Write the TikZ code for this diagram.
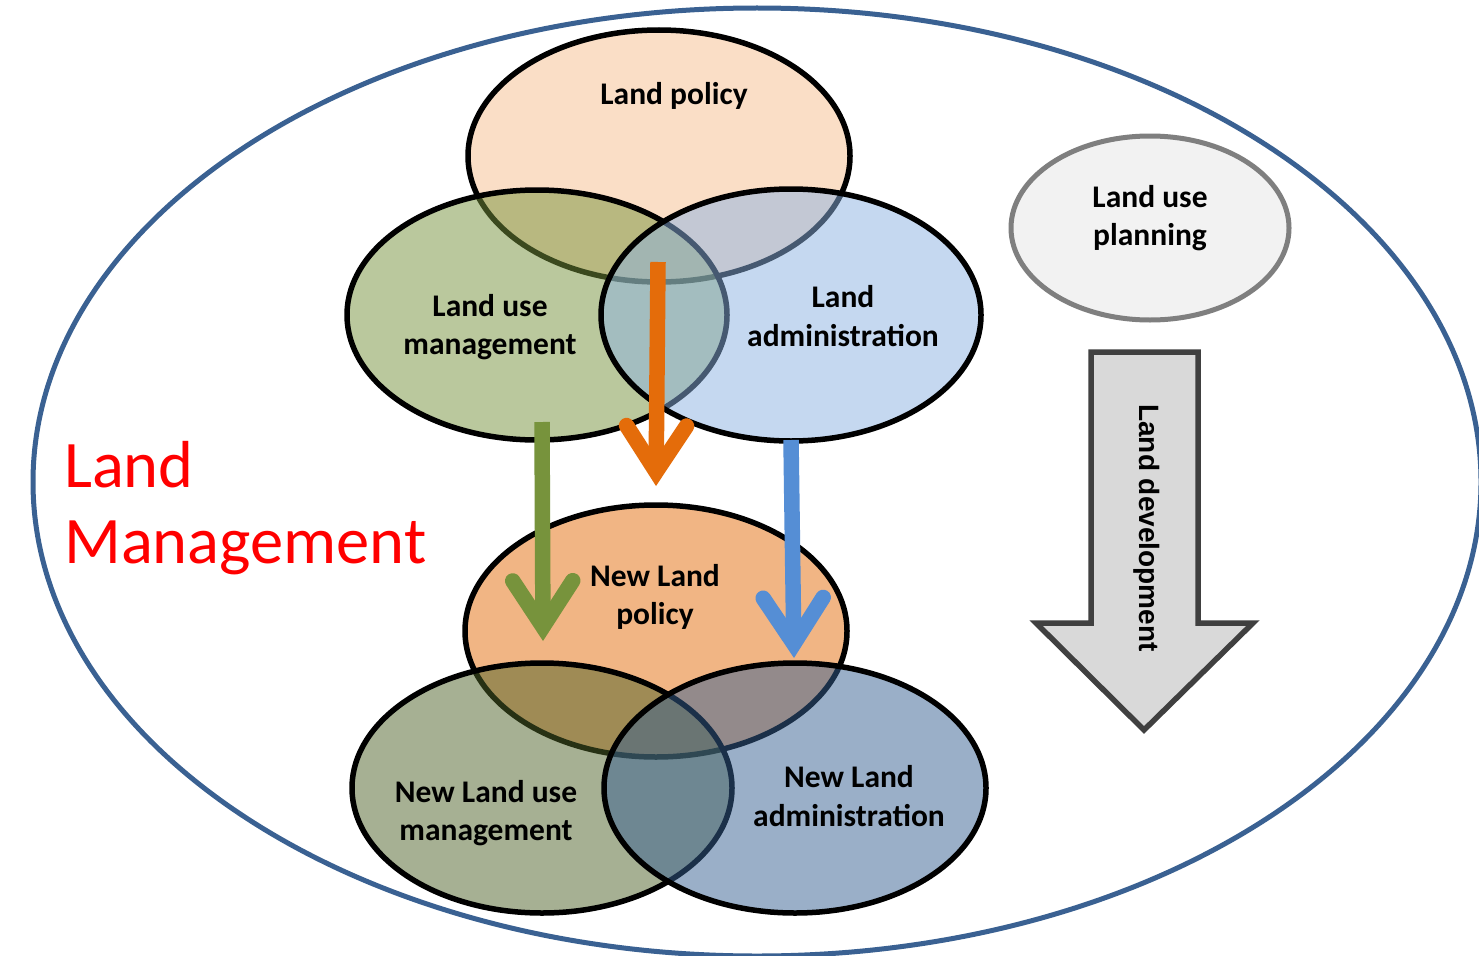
\documentclass[tikz,border=0pt]{standalone}
\usepackage{fontspec}
\setmainfont{Carlito}
\newfontfamily\arialfont{Liberation Sans}
\usetikzlibrary{arrows.meta}
\definecolor{lpfill}{HTML}{FADEC6}
\definecolor{lumc}{HTML}{77933C}
\definecolor{lac}{HTML}{8DB3E2}
\definecolor{nlpc}{HTML}{E46C0A}
\definecolor{nlumc}{HTML}{4F6228}
\definecolor{nlac}{HTML}{376092}
\definecolor{bigc}{HTML}{3A6192}
\definecolor{orangea}{HTML}{E46C0A}
\definecolor{greena}{HTML}{77933C}
\definecolor{bluea}{HTML}{558ED5}
\definecolor{lupfill}{HTML}{F2F2F2}
\definecolor{lupdraw}{HTML}{7F7F7F}
\definecolor{ldfill}{HTML}{D9D9D9}
\definecolor{lddraw}{HTML}{404040}
\begin{document}
\begin{tikzpicture}[x=1pt,y=-1pt,
  venn/.style={draw=black, line width=5.5pt},
  lbl/.style={font=\fontsize{31.5}{38.5}\selectfont\bfseries, align=center, inner sep=0pt},
  flow/.style={line width=15.5pt, line cap=butt,
    -{Straight Barb[length=46pt,width=60pt,line cap=round,line join=miter]}},
]
\useasboundingbox (0,0) rectangle (1479,955);
\fill[white] (0,0) rectangle (1479,955);
\clip (0,0) rectangle (1479,955);
% outer ellipse
\draw[line width=5pt, bigc] (757,482) ellipse [x radius=724, y radius=474];
% top venn
\draw[venn, fill=lpfill] (659,156) ellipse [x radius=191, y radius=126];
\draw[venn, fill=lumc, fill opacity=0.5] (537,315) ellipse [x radius=190, y radius=125];
\draw[venn, fill=lac, fill opacity=0.5] (791,315) ellipse [x radius=190, y radius=126];
% bottom venn
\draw[venn, fill=nlpc, fill opacity=0.5] (656,631) ellipse [x radius=191, y radius=126];
\draw[venn, fill=nlumc, fill opacity=0.5] (542,788) ellipse [x radius=190, y radius=125];
\draw[venn, fill=nlac, fill opacity=0.5] (795,788) ellipse [x radius=191, y radius=125];
% land use planning
\draw[line width=5pt, draw=lupdraw, fill=lupfill] (1150,228) ellipse [x radius=139, y radius=92];
% land development block arrow
\draw[line width=5.5pt, draw=lddraw, fill=ldfill, line join=miter]
  (1091,352) -- (1198,352) -- (1198,623) -- (1253,623) -- (1144,730) -- (1036,623) -- (1091,623) -- cycle;
% arrow end points
\coordinate (oS) at (658,262); \coordinate (oE) at (656,486);
\coordinate (gS) at (542,422); \coordinate (gE) at (543,641);
\coordinate (bS) at (791,440); \coordinate (bE) at (794,658);
\draw[flow, orangea] (oS) -- (oE);
\draw[flow, greena] (gS) -- (gE);
\draw[flow, bluea] (bS) -- (bE);
% labels
\node[lbl] (tLP) at (674,96) {Land policy};
\node[lbl] (tLUM) at (490,327) {Land use\\management};
\node[lbl] (tLA) at (843,316) {Land\\administration};
\node[lbl] (tNLP) at (655,597) {New Land\\policy};
\node[lbl] (tNLUM) at (486,813) {New Land use\\management};
\node[lbl] (tNLA) at (849,796) {New Land\\administration};
\node[lbl] (tLUP) at (1150,218) {Land use\\planning};
\node[font=\arialfont\fontsize{28}{34}\selectfont\bfseries, rotate=-90, inner sep=0pt] (tLD) at (1147,528) {Land development};
\node[font=\fontsize{66.5}{76}\selectfont, text=red, anchor=base west, inner sep=0pt] (tLand) at (64,487) {Land};
\node[font=\fontsize{66.5}{76}\selectfont, text=red, anchor=base west, inner sep=0pt] (tMgmt) at (64,563) {Management};
\end{tikzpicture}
\end{document}
